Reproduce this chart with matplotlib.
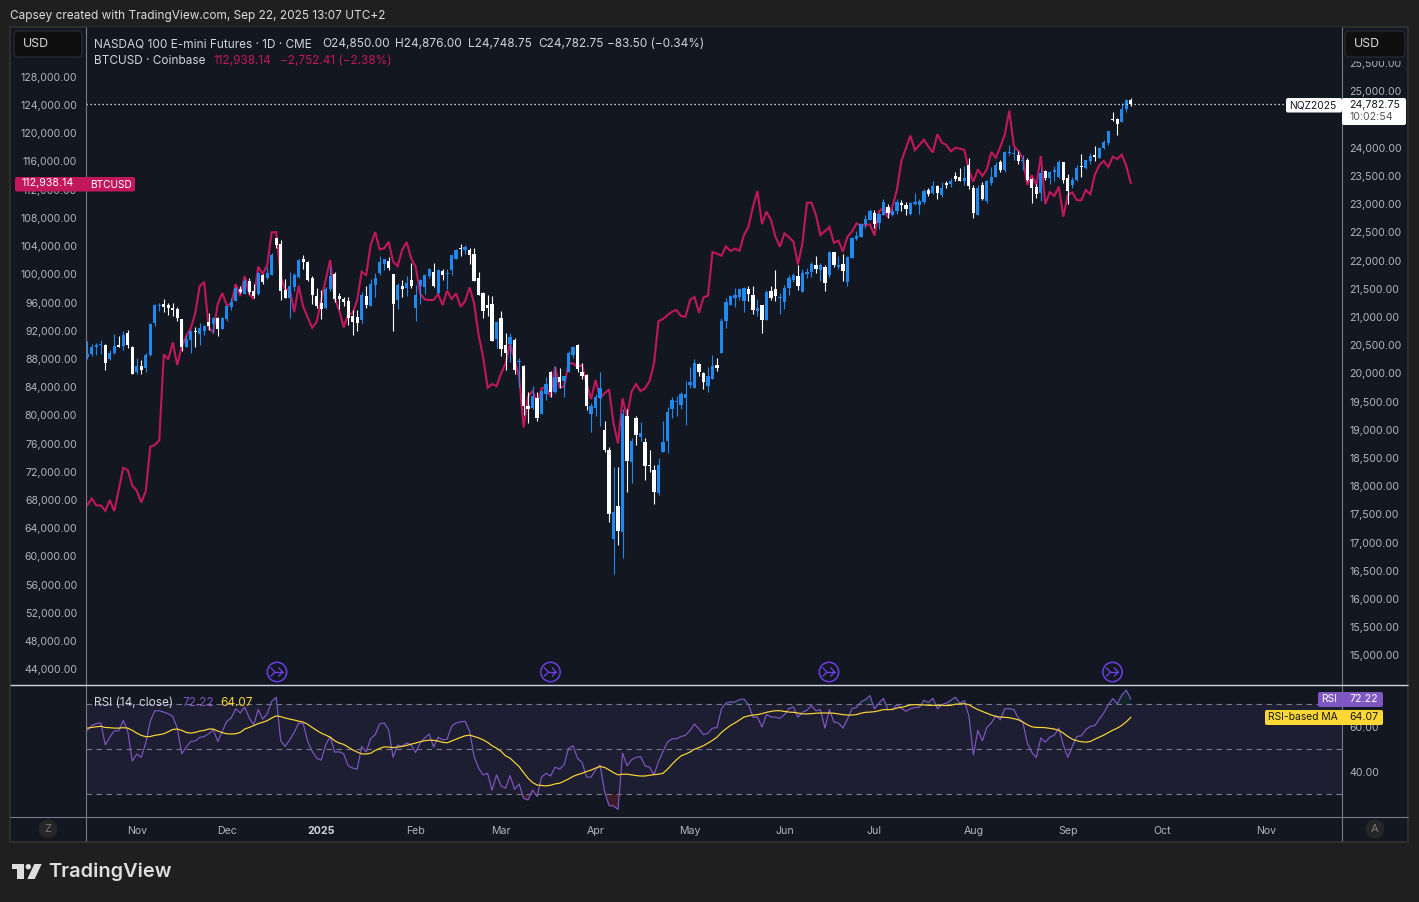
import numpy as np
import matplotlib
matplotlib.use("Agg")
import matplotlib.pyplot as plt
from matplotlib.patches import Rectangle, Circle, FancyBboxPatch, Polygon

# NQ daily candles
opens = [20287,20346,20470,20511,20505,20257,20358,20505,20488,20718,
20470,20027,20133,20098,20322,20896,21197,21232,21215,21161,
21144,20966,20470,20594,20754,20700,20754,20913,20878,20984,
20789,20966,21179,21286,21498,21410,21640,21463,21410,21747,
21693,21747,22403,22296,21481,21339,21534,21711,22030,21977,
21693,21374,21250,21161,21498,21764,21374,21321,21286,21020,
21002,20949,21374,21197,21569,21776,21942,21995,21764,21303,
21551,21516,21658,21161,21551,21534,21729,21800,21427,21817,
21770,21835,22030,22225,22190,22190,22119,21693,21427,21215,
21232,20612,20984,20505,20523,20594,20210,20133,19424,19388,
19565,19282,19636,20026,19672,19938,19867,20026,20328,20505,
20026,19973,19282,19388,19565,18998,18644,17066,17651,17190,
19246,18431,19211,18874,18785,18378,18289,17881,18608,18803,
19370,19500,19441,19565,19796,19743,20168,20009,19778,19902,
20151,20363,20931,21214,21338,21356,21285,21498,21392,21108,
21214,20948,21463,21498,21344,21268,21516,21658,21729,21446,
21765,21800,21924,21836,21889,21747,22155,21889,21942,21623,
22048,22385,22421,22651,22722,22846,22669,22811,22953,22811,
22882,23024,22988,22828,23006,22988,23041,23254,23201,23325,
23165,23378,23360,23502,23484,23414,23697,23289,22811,23343,
23059,23378,23484,23750,23609,23910,23892,23875,23768,23786,
23449,23307,23201,23591,23467,23573,23484,23750,23467,23343,
23431,23680,23644,23768,23875,23821,23999,24087,24513,24513,
24460,24690,24850]
highs = [20576,20517,20547,20594,20517,20417,20700,20665,20754,20771,
20488,20269,20240,20358,20890,21232,21244,21321,21256,21244,
21173,20966,20683,20771,20830,20896,20860,21073,21008,20996,
20996,21215,21333,21540,21551,21670,21687,21587,21800,21764,
21894,22143,22403,22367,21676,21800,21776,22030,22101,21995,
21729,21516,21481,21540,21888,21794,21427,21351,21357,21126,
21126,21445,21551,21676,21776,22083,22030,22066,21764,21605,
21658,21729,21959,21569,21670,21764,21871,21959,21853,21853,
21853,22101,22208,22296,22278,22225,22225,21800,21445,21392,
21374,20931,21108,20718,20712,20629,20275,20151,19672,19778,
19672,19707,19938,20044,20133,20097,19955,20399,20487,20523,
20186,19991,19477,19636,20026,19158,18697,18342,18342,19370,
19370,18856,19246,19140,18856,18644,18378,18502,19158,19406,
19583,19601,19672,19867,20115,20257,20186,20026,20115,20328,
20275,20984,21338,21392,21516,21498,21533,21551,21551,21321,
21214,21480,21551,21835,21427,21569,21746,21782,21924,21853,
21871,21977,22084,21960,21924,22172,22155,22084,22119,22084,
22421,22527,22669,22811,22917,22899,22846,23094,23006,22935,
23094,23077,23041,23041,23201,23094,23272,23289,23414,23343,
23396,23414,23467,23573,23644,23680,23821,23343,23343,23396,
23431,23662,23750,23786,23945,24052,23999,23945,23875,23821,
23467,23360,23626,23609,23591,23680,23786,23750,23538,23484,
23697,23892,23786,23910,24034,24016,24141,24300,24637,24531,
24796,24867,24876]
lows = [20257,20310,20328,20340,20062,20240,20340,20470,20417,20452,
19991,19991,19991,20027,20310,20842,21108,21091,21037,21026,
20931,20399,20470,20364,20470,20505,20683,20771,20718,20665,
20789,20931,21126,21286,21421,21410,21410,21339,21392,21587,
21676,21747,22225,21303,21339,20984,21463,21693,21853,21640,
21232,21161,20966,21144,21463,21268,21144,21197,20860,20683,
20754,20896,21161,21197,21357,21747,21835,21835,20754,21144,
21357,21374,21516,20931,21232,21410,21693,21534,21410,21658,
21498,21747,22030,22083,22119,21942,21640,21392,20984,21020,
20576,20452,20310,20062,20204,19991,19760,19264,19122,19370,
19158,19282,19530,19583,19654,19743,19583,20026,20275,20026,
19902,19353,18963,19246,19069,18608,17367,16445,16959,16729,
17899,18058,18732,18803,18112,18253,17686,17846,18608,18590,
19211,19246,19370,19087,19743,19743,19955,19725,19672,19902,
20044,20363,20807,21214,21179,21303,21090,21285,21055,21019,
20718,20948,21303,21285,21055,21143,21392,21622,21480,21446,
21694,21711,21782,21641,21463,21711,21889,21853,21641,21552,
22048,22367,22421,22580,22722,22580,22562,22811,22757,22793,
22828,22882,22811,22811,22988,22828,23006,23148,23183,23094,
23130,23289,23307,23414,23414,23343,23272,22757,22811,23077,
23024,23343,23484,23573,23573,23875,23786,23715,23609,23414,
23024,23112,23059,23431,23360,23414,23467,23378,23006,23289,
23414,23484,23626,23715,23768,23821,23981,24052,24477,24229,
24460,24637,24748.75]
closes = [20346,20470,20505,20529,20186,20358,20488,20470,20683,20505,
19991,20133,20062,20328,20878,21215,21215,21179,21161,21126,
20984,20470,20612,20754,20736,20807,20842,20842,20984,20789,
20984,21197,21268,21516,21445,21640,21445,21374,21782,21622,
21782,22101,22278,21463,21339,21551,21747,22013,21977,21658,
21392,21197,21144,21498,21729,21321,21321,21268,20984,20913,
20896,21392,21215,21587,21693,21977,22030,21871,21232,21569,
21498,21605,21551,21392,21658,21747,21853,21551,21835,21747,
21782,22101,22190,22208,22243,22101,21640,21392,21108,21161,
20576,20913,20435,20363,20647,20062,20222,19424,19370,19601,
19211,19690,19814,19672,19938,19849,19955,20363,20470,20080,
19955,19424,19424,19583,19743,18644,17509,17544,17207,19282,
18449,18803,18909,18945,18360,18360,17899,18378,18785,19317,
19530,19512,19636,19636,19849,20186,20026,19849,19955,20133,
20097,20931,21268,21374,21392,21498,21516,21409,21126,21161,
20948,21445,21338,21374,21356,21516,21693,21746,21551,21782,
21800,21942,21853,21924,21605,22155,21924,21924,21818,22066,
22403,22438,22651,22740,22882,22651,22828,23041,22846,22882,
23041,22988,22917,23024,23041,23059,23236,23183,23325,23201,
23289,23343,23414,23449,23414,23467,23325,22846,23289,23094,
23414,23484,23697,23609,23928,23928,23910,23768,23786,23431,
23289,23183,23555,23467,23573,23609,23750,23431,23236,23431,
23644,23662,23786,23857,23839,23999,24105,24300,24495,24424,
24690,24850,24782.75]

# BTC close on the same bars
btc = [67278,68224,67231,67231,66475,67988,66428,69500,72573,72242,
70067,69311,67657,69264,75551,75787,76470,88643,87934,90345,
87130,89730,91243,92330,94457,98333,98900,92330,91763,95781,
97341,95639,95781,98617,96915,99751,97199,96490,101075,100035,
101311,105944,105991,99657,97766,97990,94646,98380,95403,93890,
92424,93276,96348,99184,102020,96584,94930,92472,94363,94457,
96348,100366,99893,104147,105991,103533,103675,104620,101784,101170,
103439,104573,102257,101075,97293,96443,96348,96348,97199,95639,
97672,96490,97293,95403,96206,98144,95875,91385,88312,83916,
84436,84152,85948,87366,90203,87840,85476,78291,82640,83491,
81694,83821,83964,82640,86894,83964,84058,87366,87366,86894,
87130,84530,82309,85003,82403,83112,83680,78858,76022,82403,
79803,83349,84436,83443,83821,84861,87366,93370,93653,94221,
94693,94930,94079,93985,96348,96773,94551,96726,96963,103155,
102918,102635,103958,103297,103628,103344,105566,106747,109584,111800,
107125,108875,107693,105329,103911,105802,105235,104620,101405,104383,
110150,110150,108401,105565,106131,106699,104477,104761,103201,105328,
106037,107219,106935,106983,107077,105517,108874,109488,108070,109583,
111946,116058,117855,119651,117618,118327,119084,118091,117287,119840,
118658,118327,117429,117949,117807,117618,114782,113128,114877,113931,
114877,117335,116531,118091,119840,123196,118186,117524,116437,112655,
114073,112655,116767,109960,111662,111095,112419,108164,111237,111615,
110528,110480,111946,111331,114073,115491,116058,115208,116673,116342,
116956,115349,112938.14]

rsi = [58.3,60.5,61.3,61.6,51.9,55.3,58.1,58.1,62.7,57.9,
44.7,47.8,46.4,52.7,62.3,67.0,67.0,66.4,65.7,64.5,
59.3,47.9,50.9,53.4,53.6,55.2,55.6,56.8,58.6,53.4,
57.9,62.3,63.8,67.9,66.0,68.7,63.8,60.8,67.5,63.3,
65.7,71.2,73.0,53.7,51.2,54.1,57.4,61.6,61.3,53.4,
49.0,46.0,45.1,51.9,55.6,48.7,48.8,47.9,42.6,41.6,
41.1,51.2,48.7,54.6,56.4,61.1,61.6,58.6,46.4,51.8,
51.2,52.7,51.9,48.5,52.7,54.9,56.7,50.9,55.3,54.1,
54.4,60.1,61.6,62.1,62.3,57.9,46.7,41.6,38.6,39.3,
31.9,38.6,33.7,32.7,38.3,32.2,34.6,28.2,27.5,31.9,
29.0,37.6,39.3,38.1,42.0,41.1,43.0,50.4,51.5,45.9,
44.1,37.6,37.6,40.8,43.0,31.2,25.0,24.8,23.3,48.2,
42.6,45.3,46.3,46.7,42.6,42.0,38.6,44.5,49.0,53.1,
54.6,54.6,55.6,56.1,58.3,61.1,58.9,56.4,57.1,59.3,
59.5,67.9,70.4,70.9,70.9,71.9,72.2,69.7,64.2,64.2,
59.8,65.3,64.2,64.2,63.6,65.3,67.9,68.7,64.1,66.4,
67.2,69.3,67.0,67.5,59.3,67.5,62.0,61.6,59.3,63.3,
67.9,68.5,70.9,71.9,73.7,67.8,70.4,72.5,67.5,67.5,
69.7,68.2,66.7,67.9,68.4,68.5,71.6,70.7,72.5,67.9,
69.7,70.4,71.6,73.0,70.3,71.5,64.8,47.5,58.3,53.7,
59.6,61.6,64.8,63.0,67.9,67.9,67.5,63.8,62.0,52.7,
48.5,46.3,54.9,53.1,55.3,56.2,59.3,51.9,46.3,51.2,
55.6,55.9,58.6,60.1,60.4,63.3,66.0,69.7,72.4,70.1,
73.9,76.1,72.22]

rsi_ma = [59.3,59.6,59.9,60.1,59.6,59.5,59.3,59.3,59.5,59.3,
58.3,57.1,56.1,55.5,55.6,56.1,56.4,56.8,57.7,58.7,
58.9,58.3,57.4,57.1,57.4,58.0,58.3,58.9,58.9,58.0,
57.3,56.8,56.7,56.8,57.4,58.9,59.6,60.4,61.3,61.9,
62.6,63.8,64.7,64.4,63.8,63.3,62.9,62.4,62.0,61.0,
59.6,58.3,57.1,56.2,55.3,53.7,52.7,52.1,50.9,49.7,
48.7,47.9,47.8,48.2,49.4,50.3,51.0,50.9,50.7,50.9,
51.2,51.6,52.2,52.7,53.3,53.7,54.0,53.9,53.6,53.0,
52.8,53.6,54.4,55.2,55.9,56.2,55.6,55.0,
54.1,53.0,51.5,50.4,49.0,47.0,46.0,44.1,42.3,39.6,
37.1,35.2,34.1,33.9,33.7,34.0,34.6,34.9,35.8,36.8,
37.9,38.7,39.3,40.1,40.7,41.6,42.3,41.9,40.8,39.6,
38.6,38.9,38.9,38.6,38.3,38.1,38.1,38.4,38.7,38.9,
39.3,41.1,43.3,45.3,47.0,47.8,48.7,50.0,50.7,51.5,
52.7,53.9,55.3,57.4,59.0,60.5,61.6,62.9,64.2,64.7,
65.1,65.3,65.7,66.3,66.7,67.0,67.0,66.7,66.4,66.3,
66.0,65.6,65.6,65.7,65.9,66.0,66.0,66.0,65.9,65.6,
65.3,65.1,65.1,65.3,65.9,66.3,66.4,66.6,67.0,67.5,
67.5,67.6,68.2,68.5,69.0,69.6,69.7,69.6,69.6,69.4,
69.4,69.4,69.4,69.3,69.4,
69.9,70.0,70.1,69.7,68.5,67.5,66.7,65.9,65.1,64.5,
64.2,64.1,63.9,63.5,63.0,62.0,60.8,59.9,59.6,59.6,
59.5,59.2,58.9,58.3,57.1,55.6,54.4,53.7,53.3,53.1,
53.4,54.4,55.3,56.2,57.3,58.4,59.3,60.5,62.1,64.07]

btc_ticks = list(range(44000, 132000, 4000))
# 24,500 sits under the last price tag, so it is left out
nq_ticks = [v for v in range(15000, 26000, 500) if v != 24500]
rsi_ticks = [40, 60]
rsi_levels = [30, 50, 70]
month_pos = [11, 31, 52, 73, 92, 113, 134, 155, 175, 197, 218, 239, 262]
month_labels = ["Nov", "Dec", "2025", "Feb", "Mar", "Apr", "May", "Jun", "Jul", "Aug", "Sep", "Oct", "Nov"]

BG = "#1f1f1f"
PANEL = "#131722"
GREY = "#b2b5be"
BLUE = "#2089ee"
CRIMSON = "#c2185b"
PURPLE = "#7e57c2"
YELLOW = "#fdd835"
LINE = "#787b86"

W, H = 1419, 902
plt.rcParams["font.family"] = ["Inter", "DejaVu Sans"]
fig = plt.figure(figsize=(W / 100, H / 100), dpi=100, facecolor=BG)


def px_axes(x0, y0, x1, y1):
    return fig.add_axes([x0 / W, 1 - y1 / H, (x1 - x0) / W, (y1 - y0) / H])


x = np.arange(len(closes))
xlim = (-0.4, 278.85)

# main pane, two price scales
ax_btc = px_axes(85.5, 27, 1341.5, 685.5)
ax_nq = ax_btc.twinx()
ax_btc.set_facecolor(PANEL)
ax_nq.patch.set_visible(False)
ax_btc.set_xlim(xlim)
ax_btc.set_ylim(41700, 135060)
ax_nq.set_ylim(14468, 26143)

ax_btc.plot(x, btc, color=CRIMSON, lw=1.5, solid_joinstyle="miter")
ax_btc.set_yticks(btc_ticks, [f"{v:,.2f}" for v in btc_ticks])
ax_nq.set_yticks(nq_ticks, [f"{v:,.2f}" for v in nq_ticks])
ax_btc.tick_params(axis="y", length=0, pad=6, labelsize=7.6, labelcolor=GREY)
ax_nq.tick_params(axis="y", length=0, pad=5.6, labelsize=7.6, labelcolor=GREY)
ax_btc.set_xticks([])

o = np.array(opens)
c = np.array(closes)
colors = [BLUE if c[i] >= o[i] else "white" for i in x]
ax_nq.vlines(x, lows, highs, colors=colors, lw=0.8)
ax_nq.bar(x, np.abs(c - o), bottom=np.minimum(o, c), width=0.72, color=colors, linewidth=0)
ax_nq.axhline(closes[-1], xmax=(1286 - 85.5) / (1341.5 - 85.5), color="white", lw=0.9, dashes=(1, 2.2))

for a in [ax_btc, ax_nq]:
    for s in a.spines.values():
        s.set_visible(False)

# RSI pane
ax_rsi = px_axes(85.5, 686, 1341.5, 816.5)
ax_rsi.set_facecolor(PANEL)
ax_rsi.set_xlim(xlim)
ax_rsi.set_ylim(20.16, 77.96)
ax_rsi.axhspan(30, 70, color="#1e1e33", lw=0)
r = np.array(rsi)
ax_rsi.fill_between(x, r, 30, where=r < 30, interpolate=True, color="#f23645", alpha=0.18, lw=0)
ax_rsi.fill_between(x, r, 70, where=r > 70, interpolate=True, color="#089981", alpha=0.12, lw=0)
for lev in rsi_levels:
    ax_rsi.axhline(lev, color=LINE, lw=0.8, dashes=(5, 4))
ax_rsi.plot(x, rsi, color=PURPLE, lw=0.85)
ax_rsi.plot(x, rsi_ma, color=YELLOW, lw=0.85)
ax_rsi.yaxis.tick_right()
ax_rsi.set_yticks(rsi_ticks, [f"{v:.2f}" for v in rsi_ticks])
ax_rsi.tick_params(axis="y", length=0, pad=5.6, labelsize=7.6, labelcolor=GREY)
ax_rsi.set_xticks(month_pos, month_labels)
ax_rsi.tick_params(axis="x", length=0, pad=6.8, labelsize=7.6, labelcolor=GREY)
for lab, txt in zip(ax_rsi.get_xticklabels(), month_labels):
    if txt == "2025":
        lab.set_fontweight("bold")
        lab.set_color("#d1d4dc")
for s in ax_rsi.spines.values():
    s.set_visible(False)

# frame, tags and text drawn in pixel space over everything
ov = fig.add_axes([0, 0, 1, 1], zorder=10)
ov.set_xlim(0, W)
ov.set_ylim(H, 0)
ov.axis("off")
ov.patch.set_visible(False)

# panel background outside the axes areas
back = fig.add_axes([0, 0, 1, 1], zorder=-1)
back.set_xlim(0, W)
back.set_ylim(H, 0)
back.axis("off")
back.add_patch(Rectangle((10, 27), 1398, 815, fc=PANEL, ec="#2e2e2e", lw=1.5))


def hline(x0, x1, y, color=LINE, lw=0.8):
    ov.plot([x0, x1], [y, y], color=color, lw=lw, solid_capstyle="butt")


def vline(x0, y0, y1, color=LINE, lw=0.8):
    ov.plot([x0, x0], [y0, y1], color=color, lw=lw, solid_capstyle="butt")


def box(x0, y0, x1, y1, fc, ec="none", r=2.5, z=3):
    ov.add_patch(FancyBboxPatch((x0 + r, y0 + r), x1 - x0 - 2 * r, y1 - y0 - 2 * r,
                                boxstyle=f"round,pad={r},rounding_size={r}",
                                fc=fc, ec=ec, lw=0.8, zorder=z))


def label(x0, y0, s, color="#d1d4dc", size=8.5, ha="left", **kw):
    ov.text(x0, y0, s, color=color, fontsize=size, ha=ha, va="center", zorder=5, **kw)


vline(85.5, 27, 841)
vline(1341.5, 27, 841)
hline(10, 1408, 685, color="#d1d4dc", lw=1)
hline(10, 1408, 816.5)

# header
label(10, 16, "Capsey created with TradingView.com, Sep 22, 2025 13:07 UTC+2", color="#dbdbdb", size=8.5)
ov.add_patch(Rectangle((1343, 31), 64, 29.5, fc=PANEL, ec="none", zorder=2))
box(14, 31, 82, 57, "#0f0f0f", ec="#2a2e39", r=4)
box(1345, 31, 1405, 57, "#0f0f0f", ec="#2a2e39", r=4)
label(23, 44, "USD", color="#dbdbdb", size=8.9)
label(1354, 44, "USD", color="#dbdbdb", size=8.9)

# legend rows
label(94, 44, "NASDAQ 100 E-mini Futures · 1D · CME")
label(322, 44, "O24,850.00")
label(395, 44, "H24,876.00")
label(468, 44, "L24,748.75")
label(538, 44, "C24,782.75")
label(607, 44, "−83.50 (−0.34%)")
label(94, 60.5, "BTCUSD · Coinbase")
label(213, 60.5, "112,938.14", color=CRIMSON)
label(280, 60.5, "−2,752.41 (−2.38%)", color=CRIMSON)

# last price tags
box(1286, 98, 1342, 112.5, "white", r=2)
label(1289, 105.5, "NQZ2025", color="#131722", size=7.4)
box(1342, 98, 1406, 125, "white", r=2)
label(1349, 104.5, "24,782.75", color="#131722", size=7.6)
label(1349, 117, "10:02:54", color="#555555", size=7.6)
box(15, 177, 135, 191.5, CRIMSON, r=2)
label(21, 183.5, "112,938.14", color="white", size=7.7)
label(90, 184.5, "BTCUSD", color="white", size=7.3)
vline(85.5, 177, 191.5)

# RSI legend and tags
label(94, 702.5, "RSI (14, close)")
label(182, 702.5, "72.22", color=PURPLE)
label(220, 702.5, "64.07", color=YELLOW)
box(1318, 692, 1383, 707, PURPLE, r=2)
label(1321, 699.5, "RSI", color="white", size=7.4)
label(1349, 699.5, "72.22", color="white", size=7.6)
box(1265, 710, 1383, 725, YELLOW, r=2)
label(1268, 717.5, "RSI-based MA", color="#131722", size=7.4)
label(1349, 717.5, "64.07", color="#131722", size=7.6)
vline(1341.5, 692, 725)

# event markers under the main pane
for cx in [277, 550.5, 829, 1112.5]:
    ov.add_patch(Circle((cx, 672), 9.7, fc="none", ec="#6a3fe0", lw=1.1, zorder=4))
    ov.plot([cx - 6, cx - 2, cx - 6], [668, 672, 676], color="#6a3fe0", lw=1, zorder=4)
    ov.plot([cx - 2, cx + 5.5], [672, 672], color="#6a3fe0", lw=1, zorder=4)
    ov.plot([cx + 2, cx + 5.5, cx + 2], [668, 672, 676], color="#6a3fe0", lw=1, zorder=4)

# Z / A buttons
for cx, s in [(48, "Z"), (1375, "A")]:
    ov.add_patch(Circle((cx, 829), 9.5, fc="#262626", ec="none", zorder=4))
    ov.text(cx, 829.5, s, color="#787878", fontsize=8, ha="center", va="center", zorder=5)

# watermark logo
wm = "#dedede"
ov.add_patch(Polygon([(12, 864), (24.3, 864), (24.3, 879), (17.3, 879), (17.3, 869.3), (12, 869.3)], fc=wm, ec="none"))
ov.add_patch(Circle((28.3, 866.7), 2.7, fc=wm, ec="none"))
ov.add_patch(Polygon([(34.3, 864), (41.7, 864), (34.7, 879), (27.3, 879)], fc=wm, ec="none"))
label(48, 872, "TradingView", color=wm, size=14.4, fontweight="semibold")

fig.savefig("out.png", dpi=100, facecolor=BG)
